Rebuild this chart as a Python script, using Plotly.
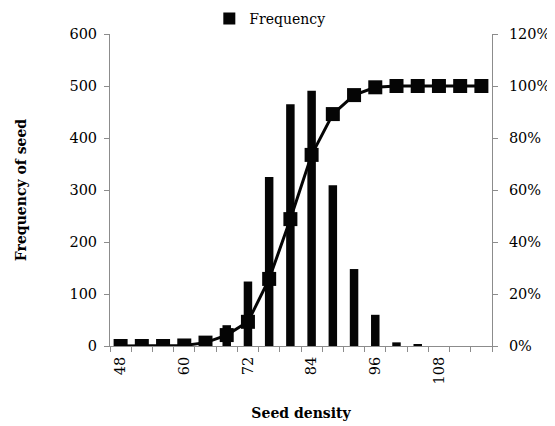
import plotly.graph_objects as go

# seed density classes (bin centres)
density = [48, 52, 56, 60, 64, 68, 72, 76, 80, 84, 88, 92, 96, 100, 104, 108, 112, 116]
# number of seeds in each class
frequency = [0, 0, 0, 1, 6, 40, 124, 325, 465, 491, 309, 148, 60, 7, 2, 0, 0, 0]
# cumulative share
cumulative = [0.0, 0.0, 0.0, 0.002, 0.013, 0.042, 0.093, 0.258, 0.488, 0.735,
              0.892, 0.965, 0.995, 1.0, 1.0, 1.0, 1.0, 1.0]

label_ticks = [48, 60, 72, 84, 96, 108]
left_ticks = [0, 100, 200, 300, 400, 500, 600]
right_ticks = [0, 0.2, 0.4, 0.6, 0.8, 1.0, 1.2]

ink = "#050505"
axis_grey = "#8c8c8c"
serif = "DejaVu Serif"

fig = go.Figure()

fig.add_trace(go.Bar(
    x=density, y=frequency, name="Frequency",
    marker=dict(color=ink, line=dict(width=0)),
    width=1.6, showlegend=True,
))

fig.add_trace(go.Scatter(
    x=density, y=cumulative, yaxis="y2", mode="lines+markers",
    line=dict(color=ink, width=3),
    marker=dict(symbol="square", size=14, color=ink),
    showlegend=False,
))

# the page body adds an 8px margin, so the figure is a little smaller
fig.update_layout(
    width=547, height=418,
    margin=dict(l=102, r=63, t=26, b=80, autoexpand=False),
    paper_bgcolor="white", plot_bgcolor="white",
    font=dict(family=serif, size=14.5, color="black"),
    legend=dict(x=0.26, y=1.10, xanchor="left", yanchor="top",
                font=dict(family=serif, size=14), bgcolor="rgba(0,0,0,0)"),
    xaxis=dict(
        range=[46, 118], tickmode="array", tickvals=label_ticks,
        ticktext=[str(v) for v in label_ticks], tickangle=-90,
        ticks="", showline=True, linecolor=axis_grey, linewidth=1,
        showgrid=False, zeroline=False, ticklabelstandoff=4,
        minor=dict(tickmode="linear", tick0=46, dtick=4, ticks="outside",
                   ticklen=5, tickcolor=axis_grey, showgrid=False),
        title=dict(text="<b>Seed density</b>", standoff=24,
                   font=dict(family=serif, size=14)),
    ),
    yaxis=dict(
        range=[0, 600], tickvals=left_ticks, ticks="outside", ticklen=5,
        tickcolor=axis_grey, showline=True, linecolor=axis_grey, linewidth=1,
        showgrid=False, zeroline=False, ticklabelstandoff=4,
        title=dict(text="<b>Frequency of seed</b>", standoff=39,
                   font=dict(family=serif, size=14)),
    ),
    yaxis2=dict(
        range=[0, 1.2], tickvals=right_ticks, tickformat=".0%",
        overlaying="y", side="right", ticks="outside", ticklen=5,
        tickcolor=axis_grey, showline=True, linecolor=axis_grey, linewidth=1,
        showgrid=False, zeroline=False, ticklabelstandoff=8,
    ),
)

fig.write_html("out.html")
